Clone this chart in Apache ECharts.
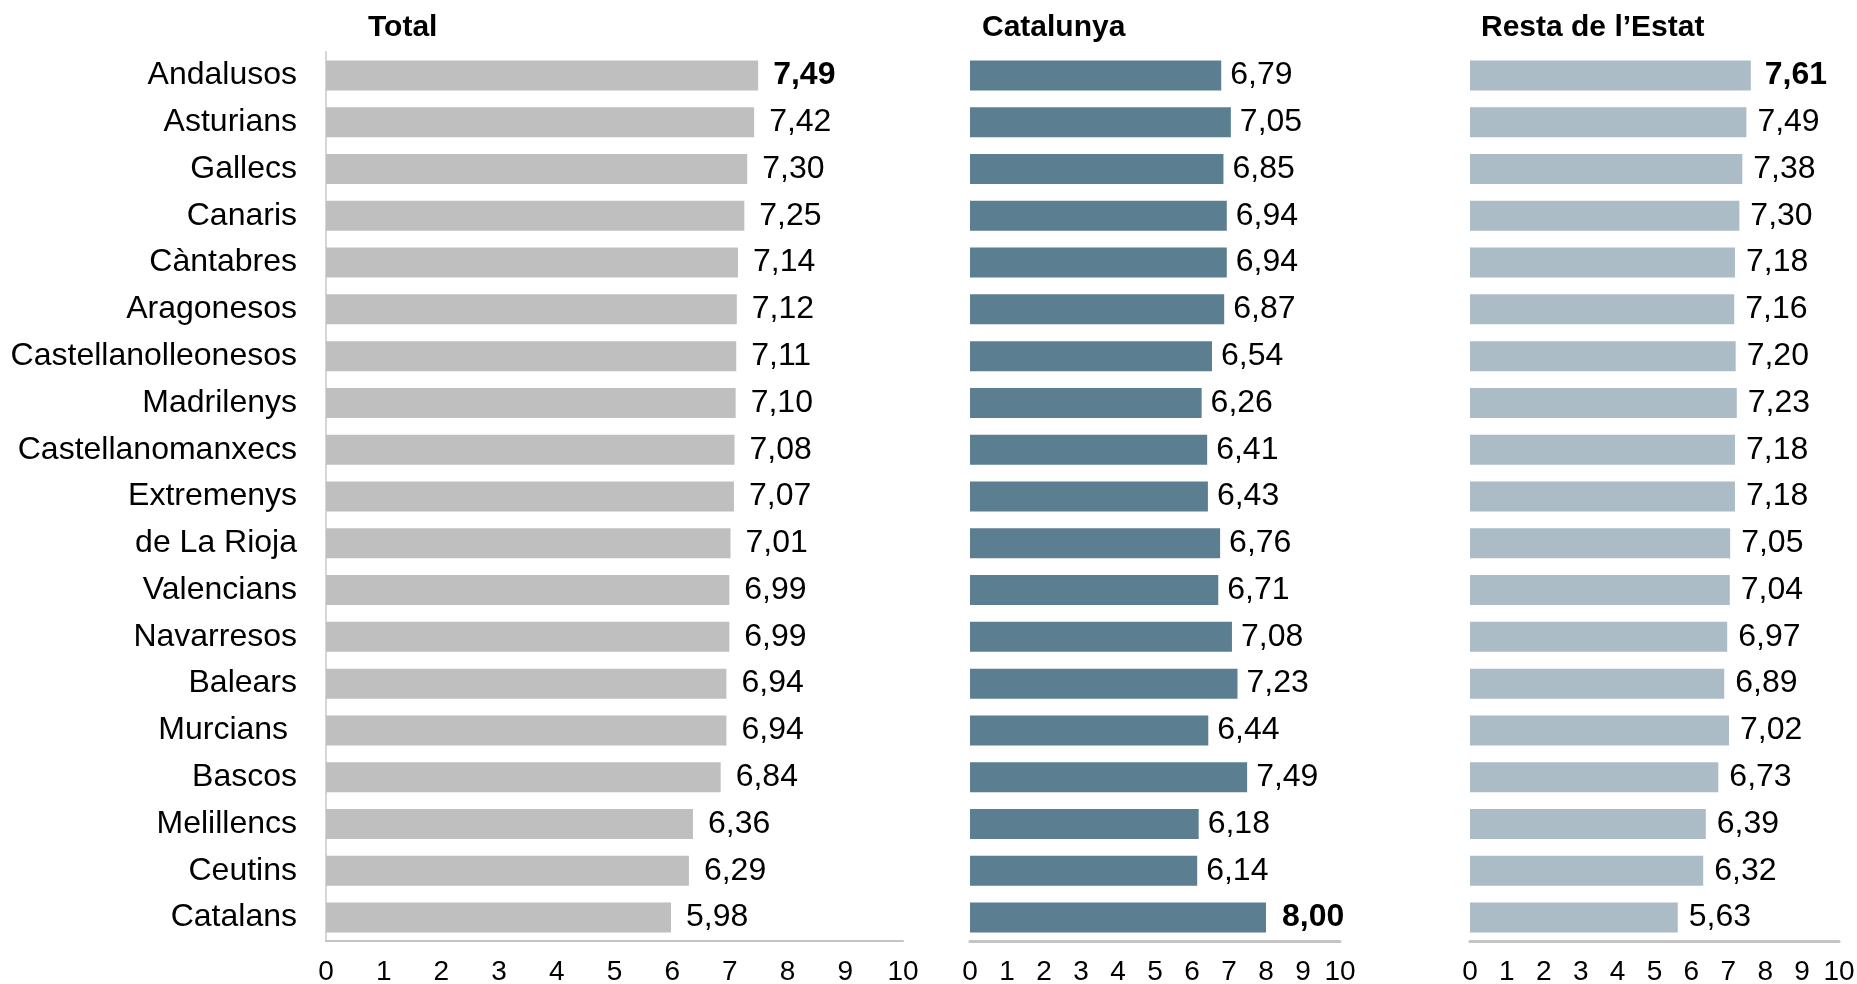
<!DOCTYPE html>
<html>
<head>
<meta charset="utf-8">
<title>Valoració per comunitats</title>
<script src="https://cdn.jsdelivr.net/npm/echarts@6/dist/echarts.min.js"></script>
<style>
  html, body { margin: 0; padding: 0; background: #ffffff; }
  #chart { width: 1857px; height: 984px; }
</style>
</head>
<body>
<div id="chart"></div>
<script>
// Groups rated (top to bottom)
const categories = [
  'Andalusos', 'Asturians', 'Gallecs', 'Canaris', 'Càntabres', 'Aragonesos',
  'Castellanolleonesos', 'Madrilenys', 'Castellanomanxecs', 'Extremenys',
  'de La Rioja', 'Valencians', 'Navarresos', 'Balears', 'Murcians ', 'Bascos',
  'Melillencs', 'Ceutins', 'Catalans'
];

// Average scores per panel
const totalValues = [7.49, 7.42, 7.30, 7.25, 7.14, 7.12, 7.11, 7.10, 7.08, 7.07, 7.01, 6.99, 6.99, 6.94, 6.94, 6.84, 6.36, 6.29, 5.98];
const catalunyaValues = [6.79, 7.05, 6.85, 6.94, 6.94, 6.87, 6.54, 6.26, 6.41, 6.43, 6.76, 6.71, 7.08, 7.23, 6.44, 7.49, 6.18, 6.14, 8.00];
const restaValues = [7.61, 7.49, 7.38, 7.30, 7.18, 7.16, 7.20, 7.23, 7.18, 7.18, 7.05, 7.04, 6.97, 6.89, 7.02, 6.73, 6.39, 6.32, 5.63];

const panelTitles = ['Total', 'Catalunya', 'Resta de l\u2019Estat'];
const xTicks = [0, 1, 2, 3, 4, 5, 6, 7, 8, 9, 10];

const FONT = '"Liberation Sans", Arial, sans-serif';

const panels = [
  { values: totalValues, color: '#bfbfbf', left: 326, width: 577, showY: true, titleLeft: 363, gap: 15, gapBold: 15 },
  { values: catalunyaValues, color: '#5b7e90', left: 970, width: 370, showY: false, titleLeft: 977, gap: 9, gapBold: 16 },
  { values: restaValues, color: '#abbcc6', left: 1470, width: 369, showY: false, titleLeft: 1476, gap: 11, gapBold: 14 }
];

const fmt = v => v.toFixed(2).replace('.', ',');

const option = {
  animation: false,
  backgroundColor: '#ffffff',
  textStyle: { fontFamily: FONT },
  title: panels.map((p, i) => ({
    text: panelTitles[i],
    left: p.titleLeft,
    top: 8,
    textStyle: { fontFamily: FONT, fontSize: 30, fontWeight: 'bold', color: '#000000' }
  })),
  grid: panels.map(p => ({
    left: p.left, width: p.width, top: 52, height: 889,
    containLabel: false, outerBoundsMode: 'none'
  })),
  xAxis: panels.map((p, i) => ({
    type: 'value',
    gridIndex: i,
    min: xTicks[0],
    max: xTicks[xTicks.length - 1],
    interval: 1,
    splitLine: { show: false },
    axisTick: { show: false },
    axisLine: { show: true, lineStyle: { color: '#c4c4c4', width: i === 0 ? 2 : 3 } },
    axisLabel: { fontFamily: FONT, fontSize: 28, color: '#000000', margin: 17 }
  })),
  yAxis: panels.map((p, i) => ({
    type: 'category',
    gridIndex: i,
    data: categories,
    inverse: true,
    axisTick: { show: false },
    axisLine: { show: p.showY, lineStyle: { color: '#d6d6d6', width: 2 } },
    axisLabel: {
      show: p.showY,
      fontFamily: FONT,
      fontSize: 32,
      color: '#000000',
      margin: 29
    }
  })),
  series: panels.map((p, i) => {
    const maxV = Math.max(...p.values);
    return {
      type: 'bar',
      xAxisIndex: i,
      yAxisIndex: i,
      barWidth: 30,
      itemStyle: { color: p.color },
      data: p.values.map(v => ({
        value: v,
        label: v === maxV ? { fontWeight: 'bold', distance: p.gapBold } : undefined
      })),
      label: {
        show: true,
        position: 'right',
        distance: p.gap,
        fontFamily: FONT,
        fontSize: 32,
        color: '#000000',
        formatter: params => fmt(params.value)
      }
    };
  })
};

const chart = echarts.init(document.getElementById('chart'), null, { renderer: 'canvas' });
chart.setOption(option);
</script>
</body>
</html>
